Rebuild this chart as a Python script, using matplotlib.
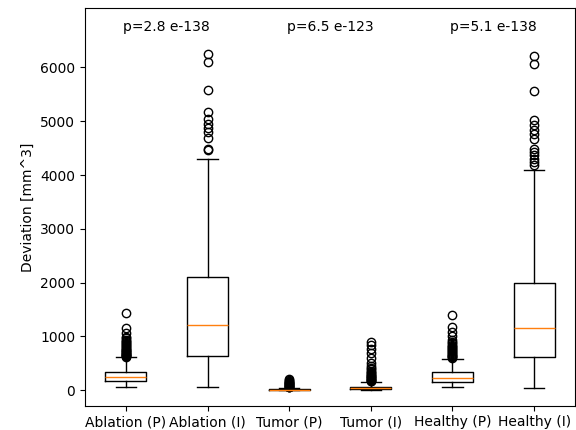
import matplotlib
matplotlib.use("Agg")
import matplotlib.pyplot as plt

labels = ["Ablation (P)", "Ablation (I)", "Tumor (P)", "Tumor (I)", "Healthy (P)", "Healthy (I)"]

# five-number summaries per group
q1 = [167, 632, 3, 12, 155, 607]
medians = [236, 1207, 10, 32, 229, 1146]
q3 = [340, 2105, 22, 65, 328, 2000]
whisker_lo = [62, 50, 0, 0, 62, 43]
whisker_hi = [607, 4304, 48, 155, 575, 4087]

# outlying observations per group
fliers_ablation_p = [1425, 1146, 1053, 990, 960, 935, 910, 890, 870, 850, 830, 815, 800,
                     785, 770, 755, 740, 725, 710, 700, 690, 680, 670, 660, 650, 640, 630, 620]
fliers_ablation_i = [6250, 6105, 5573, 5170, 5047, 4954, 4880, 4798, 4694, 4490, 4458]
fliers_tumor_p = [200, 185, 170, 160, 150, 140, 130, 120, 110, 100, 90, 80, 70, 60, 55, 50]
fliers_tumor_i = [897, 836, 756, 681, 589, 496, 450, 420, 390, 360, 340, 320, 300, 285, 270,
                  255, 240, 228, 216, 205, 195, 185, 175, 165]
fliers_healthy_p = [1393, 1165, 1083, 1003, 929, 900, 870, 845, 820, 800, 780, 760, 740, 720,
                    700, 685, 670, 655, 640, 625, 610, 595]
fliers_healthy_i = [6205, 6069, 5560, 5016, 4923, 4843, 4769, 4676, 4490, 4427, 4366, 4304,
                    4241, 4180]

fliers = [fliers_ablation_p, fliers_ablation_i, fliers_tumor_p,
          fliers_tumor_i, fliers_healthy_p, fliers_healthy_i]

p_values = ["p=2.8 e-138", "p=6.5 e-123", "p=5.1 e-138"]
p_positions = [1.5, 3.5, 5.5]
p_height = 6750

y_ticks = [0, 1000, 2000, 3000, 4000, 5000, 6000]

stats = []
for i, lab in enumerate(labels):
    stats.append(dict(label=lab, q1=q1[i], med=medians[i], q3=q3[i],
                      whislo=whisker_lo[i], whishi=whisker_hi[i], fliers=fliers[i]))

fig = plt.figure(figsize=(5.76, 4.30), dpi=100)
ax = fig.add_axes([85 / 576, 24.3 / 430, 490 / 576, 397.4 / 430])
ax.bxp(stats)

for xp, txt in zip(p_positions, p_values):
    ax.text(xp, p_height, txt, ha="center", va="center", fontsize=10)

ax.set_ylim(-290, 7100)
ax.set_yticks(y_ticks)
ax.set_ylabel("Deviation [mm^3]")

fig.savefig("out.png", dpi=100)
